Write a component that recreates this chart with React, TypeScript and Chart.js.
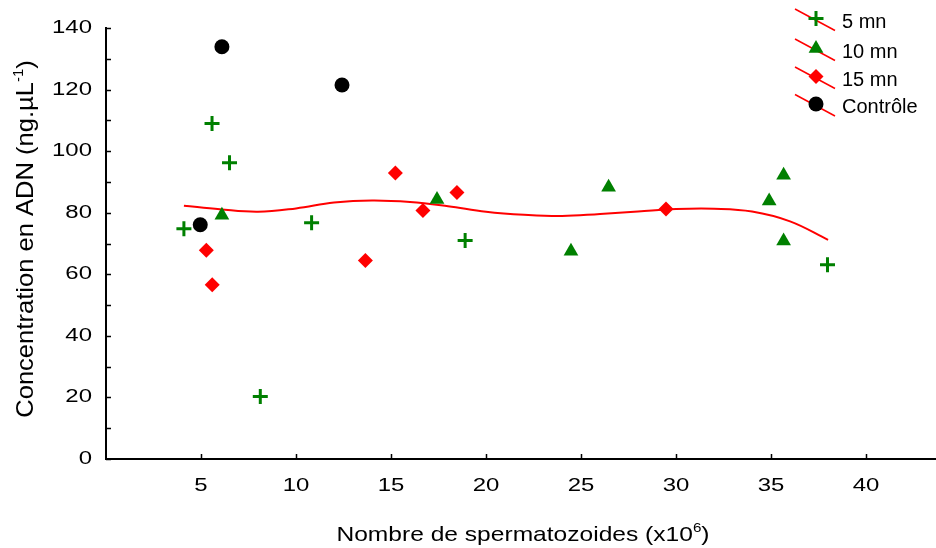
import React, { useEffect, useRef } from "react";
import { Chart, registerables } from "chart.js";
import { drawPoint } from "chart.js/helpers";

Chart.register(...registerables);

// ---- data ----
const seriesLabels = ["5 mn", "10 mn", "15 mn", "Contrôle"];
const mn5X = [4.1, 5.58, 6.5, 8.12, 10.82, 18.9, 37.97];
const mn5Y = [74.8, 109.0, 96.2, 20.3, 76.7, 71.0, 63.1];
const mn10X = [6.1, 17.42, 24.47, 26.45, 34.9, 35.66, 35.66];
const mn10Y = [79.2, 84.3, 67.5, 88.3, 83.8, 92.2, 70.8];
const mn15X = [5.28, 5.59, 13.65, 15.23, 16.68, 18.47, 29.47];
const mn15Y = [67.8, 56.6, 64.5, 92.9, 80.7, 86.6, 81.2];
const ctrlX = [4.96, 6.1, 12.42];
const ctrlY = [76.1, 133.9, 121.5];
const curveX = [4.1, 6, 8, 10, 12, 14, 16, 18, 20, 22, 24, 26, 28, 30, 32, 34, 36, 38];
const curveY = [82.3, 81.1, 80.3, 81.4, 83.3, 84.0, 83.5, 82.1, 80.3, 79.3, 78.9, 79.6, 80.4, 81.2, 81.3, 80.4, 77.2, 71.2];
const xTickLabels = [5, 10, 15, 20, 25, 30, 35, 40];
const yTickLabels = [0, 20, 40, 60, 80, 100, 120, 140];
const yMinorTicks = [0, 10, 20, 30, 40, 50, 60, 70, 80, 90, 100, 110, 120, 130, 140];
const xTitle = ["Nombre de spermatozoides (x10", "6", ")"];
const yTitle = ["Concentration en ADN (ng.µL", "-1", ")"];

const pts = (xs: number[], ys: number[]) => xs.map((x, i) => ({ x, y: ys[i] }));

const FONT = "'Liberation Sans', Arial, sans-serif";
const GREEN = "#008000";
const RED = "#ff0000";

function drawRich(
  ctx: CanvasRenderingContext2D,
  parts: string[],
  size: number,
  supSize: number,
  supRise: number
) {
  const widths: number[] = [];
  parts.forEach((p, i) => {
    ctx.font = `${i === 1 ? supSize : size}px ${FONT}`;
    widths.push(ctx.measureText(p).width);
  });
  const total = widths.reduce((a, b) => a + b, 0);
  let x = -total / 2;
  ctx.textAlign = "left";
  ctx.textBaseline = "alphabetic";
  parts.forEach((p, i) => {
    ctx.font = `${i === 1 ? supSize : size}px ${FONT}`;
    ctx.fillText(p, x, i === 1 ? -supRise : 0);
    x += widths[i];
  });
}

const decorPlugin = {
  id: "decor",
  afterDraw(chart: any) {
    const ctx: CanvasRenderingContext2D = chart.ctx;
    const xs = chart.scales.x;
    const ys = chart.scales.y;
    const area = chart.chartArea;
    ctx.save();
    ctx.fillStyle = "#000";
    ctx.strokeStyle = "#000";
    // inward ticks
    ctx.lineWidth = 1.5;
    ctx.beginPath();
    yMinorTicks.forEach((v) => {
      const py = Math.round(ys.getPixelForValue(v)) + 0.5;
      ctx.moveTo(area.left, py);
      ctx.lineTo(area.left + 5, py);
    });
    xTickLabels.forEach((v) => {
      const px = Math.round(xs.getPixelForValue(v)) + 0.5;
      ctx.moveTo(px, area.bottom);
      ctx.lineTo(px, area.bottom - 5);
    });
    ctx.stroke();
    // tick labels (wide)
    ctx.font = `18px ${FONT}`;
    ctx.textBaseline = "middle";
    yTickLabels.forEach((v) => {
      const py = ys.getPixelForValue(v);
      ctx.save();
      ctx.translate(area.left - 14, py);
      ctx.scale(1.33, 1);
      ctx.textAlign = "right";
      ctx.fillText(String(v), 0, 0);
      ctx.restore();
    });
    xTickLabels.forEach((v) => {
      const px = xs.getPixelForValue(v);
      ctx.save();
      ctx.translate(px, 486);
      ctx.scale(1.33, 1);
      ctx.textAlign = "center";
      ctx.fillText(String(v), 0, 0);
      ctx.restore();
    });
    // x title
    ctx.save();
    ctx.translate(523, 541);
    ctx.scale(1.17, 1);
    drawRich(ctx, xTitle, 21, 13, 9);
    ctx.restore();
    // y title
    ctx.save();
    ctx.translate(32.5, 239);
    ctx.rotate(-Math.PI / 2);
    ctx.scale(1.065, 1);
    drawRich(ctx, yTitle, 24, 14, 10);
    ctx.restore();
    // legend
    const rowsY = [18.5, 48.5, 76.5, 104];
    chart.data.datasets.forEach((ds: any, i: number) => {
      if (ds.type === "line") return;
      const cy = rowsY[i];
      ctx.strokeStyle = RED;
      ctx.lineWidth = 1.5;
      ctx.beginPath();
      ctx.moveTo(795, cy - 9.5);
      ctx.lineTo(835, cy + 12);
      ctx.stroke();
      ctx.fillStyle = ds.backgroundColor;
      ctx.strokeStyle = ds.borderColor;
      ctx.lineWidth = ds.borderWidth;
      drawPoint(ctx, { pointStyle: ds.pointStyle, radius: ds.pointRadius, rotation: 0, borderWidth: ds.borderWidth } as any, 816, cy);
      ctx.fillStyle = "#000";
      ctx.font = `20px ${FONT}`;
      ctx.textAlign = "left";
      ctx.textBaseline = "middle";
      ctx.fillText(ds.label, 842, cy + 3.5);
    });
    ctx.restore();
  },
};

export default function App() {
  const ref = useRef<HTMLCanvasElement>(null);
  useEffect(() => {
    document.body.style.margin = "0";
    const canvas = ref.current!;
    const chart = new Chart(canvas, {
      type: "scatter",
      data: {
        datasets: [
          {
            type: "scatter",
            label: seriesLabels[0],
            data: pts(mn5X, mn5Y),
            pointStyle: "cross",
            pointRadius: 7.5,
            borderWidth: 3,
            borderColor: GREEN,
            backgroundColor: GREEN,
            order: 1,
          },
          {
            type: "scatter",
            label: seriesLabels[1],
            data: pts(mn10X, mn10Y),
            pointStyle: "triangle",
            pointRadius: 8.5,
            borderWidth: 0,
            borderColor: GREEN,
            backgroundColor: GREEN,
            order: 1,
          },
          {
            type: "scatter",
            label: seriesLabels[2],
            data: pts(mn15X, mn15Y),
            pointStyle: "rectRot",
            pointRadius: 7.5,
            borderWidth: 0,
            borderColor: RED,
            backgroundColor: RED,
            order: 1,
          },
          {
            type: "scatter",
            label: seriesLabels[3],
            data: pts(ctrlX, ctrlY),
            pointStyle: "circle",
            pointRadius: 7.5,
            borderWidth: 0,
            borderColor: "#000",
            backgroundColor: "#000",
            order: 1,
          },
          {
            type: "line",
            label: "fit",
            data: pts(curveX, curveY),
            borderColor: RED,
            borderWidth: 2,
            pointRadius: 0,
            tension: 0.4,
            fill: false,
            order: 10,
          } as any,
        ],
      },
      options: {
        animation: false,
        responsive: false,
        layout: { autoPadding: false, padding: { top: 28, left: 0, right: 0, bottom: 0 } },
        plugins: { legend: { display: false }, tooltip: { enabled: false } },
        scales: {
          x: {
            type: "linear",
            min: 0,
            max: 43.68,
            ticks: { display: false },
            grid: { display: false, drawTicks: false },
            border: { display: true, color: "#000", width: 2 },
            afterFit: (s: any) => {
              s.height = 89;
            },
          },
          y: {
            type: "linear",
            min: 0,
            max: 140,
            ticks: { display: false },
            grid: { display: false, drawTicks: false },
            border: { display: true, color: "#000", width: 2 },
            afterFit: (s: any) => {
              s.width = 106;
            },
          },
        },
      },
      plugins: [decorPlugin],
    });
    return () => chart.destroy();
  }, []);
  return (
    <div style={{ width: 936, height: 548 }}>
      <canvas ref={ref} width={936} height={548} />
    </div>
  );
}
